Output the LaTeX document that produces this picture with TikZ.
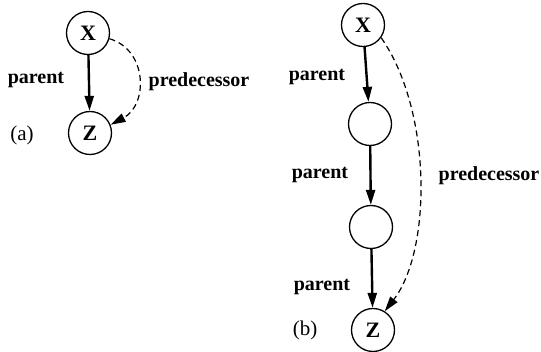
\documentclass[tikz,border=0pt]{standalone}
\usepackage{fontspec}
\setmainfont{Liberation Serif}
\usetikzlibrary{arrows.meta}

\begin{document}
\begin{tikzpicture}[x=1pt,y=-1pt,
  nd/.style={circle,draw,line width=1.3pt,minimum size=43pt,inner sep=0pt,font=\fontsize{22}{26}\selectfont\bfseries},
  par/.style={-{Triangle[length=15pt,width=9pt]},line width=2.4pt},
  pred/.style={-{Triangle[length=15pt,width=9pt]},line width=1.2pt,dash pattern=on 6pt off 4pt},
  lbl/.style={font=\fontsize{20}{24}\selectfont\bfseries},
  sublbl/.style={font=\fontsize{21}{24}\selectfont}
]
  \useasboundingbox (0,0) rectangle (541,352);
  % (a)
  \node[nd](X1) at (88,33)  {X};
  \node[nd](Z1) at (90,133) {Z};
  \node[lbl](L1) at (36,80)  {parent};
  \node[lbl](P1) at (199,82) {predecessor};
  \node[sublbl](A) at (22,135) {(a)};
  \draw[par](X1)--(Z1);
  \draw[pred](X1.-15) .. controls (148,50) and (148,105) .. (Z1.22);

  % (b)
  \node[nd](X2) at (363,25)  {X};
  \node[nd](M1) at (370,124) {};
  \node[nd](M2) at (371,227) {};
  \node[nd](Z2) at (373,330) {Z};
  \node[lbl](L2) at (317,77)  {parent};
  \node[lbl](L3) at (320,175) {parent};
  \node[lbl](L4) at (322,287) {parent};
  \node[lbl](P2) at (489,176) {predecessor};
  \node[sublbl](B) at (305,330) {(b)};
  \draw[par](X2)--(M1);
  \draw[par](M1)--(M2);
  \draw[par](M2)--(Z2);
  \draw[pred](X2.-35) .. controls (432,110) and (432,250) .. (Z2.58);
\end{tikzpicture}
\end{document}
